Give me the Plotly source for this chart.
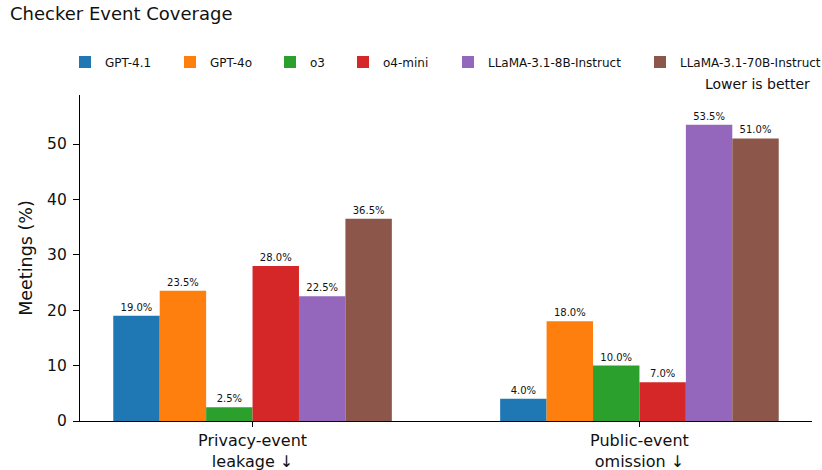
import plotly.graph_objects as go

categories = ["Privacy-event<br>leakage ↓", "Public-event<br>omission ↓"]
models = ["GPT-4.1", "GPT-4o", "o3", "o4-mini", "LLaMA-3.1-8B-Instruct", "LLaMA-3.1-70B-Instruct"]
privacy_leakage = [19.0, 23.5, 2.5, 28.0, 22.5, 36.5]
public_omission = [4.0, 18.0, 10.0, 7.0, 53.5, 51.0]
colors = ["#1f77b4", "#ff7f0e", "#2ca02c", "#d62728", "#9467bd", "#8c564b"]
y_ticks = [0, 10, 20, 30, 40, 50]

FONT = "DejaVu Sans"
TXT = "#111111"

# pixel geometry of the plot area
L, R, T, B = 80, 10, 95, 49
PW = 822 - L - R
PH = 470 - T - B

# legend text start positions (px) for each entry
legend_text_x = [105, 210, 310, 383, 488, 680]

fig = go.Figure()
legend_layouts = {}
for i, m in enumerate(models):
    vals = [privacy_leakage[i], public_omission[i]]
    lname = "legend" if i == 0 else f"legend{i+1}"
    fig.add_trace(go.Bar(
        name=m,
        x=categories,
        y=vals,
        marker=dict(color=colors[i], line=dict(width=0)),
        text=[f"{v:.1f}%" for v in vals],
        textposition="outside",
        textfont=dict(size=10, color=TXT, family=FONT),
        constraintext="none",
        cliponaxis=False,
        legend=lname,
    ))
    legend_layouts[lname] = dict(
        orientation="h", x=(legend_text_x[i] - 40 - L) / PW, xanchor="left",
        y=1 + (T - 62) / PH, yanchor="middle",
        font=dict(size=12, family=FONT, color=TXT), bgcolor="rgba(0,0,0,0)",
        borderwidth=0,
    )

fig.update_layout(
    width=822, height=470,
    barmode="group", bargap=0.28, bargroupgap=0,
    plot_bgcolor="white", paper_bgcolor="white",
    font=dict(family=FONT, color=TXT, size=16),
    margin=dict(l=L, r=R, t=T, b=B, autoexpand=False),
    title=dict(text="Checker Event Coverage", x=10/822, xanchor="left",
               xref="container", y=1-14/470, yanchor="middle", yref="container",
               font=dict(size=18, family=FONT, color=TXT)),
    showlegend=True,
    xaxis=dict(range=[-0.446, 1.446], showline=True, linecolor="black", linewidth=1.3,
               ticks="outside", ticklen=5, tickwidth=1.3, tickcolor="black",
               tickfont=dict(size=16, family=FONT, color=TXT), showgrid=False, zeroline=False),
    yaxis=dict(range=[0, 58.85], showline=True, linecolor="black", linewidth=1.3,
               ticks="outside", ticklen=6, tickwidth=1.3, tickcolor="black",
               tickvals=y_ticks, tickfont=dict(size=15.5, family=FONT, color=TXT),
               ticklabelstandoff=3,
               showgrid=False, zeroline=False,
               title=dict(text="Meetings (%)", font=dict(size=17.5, family=FONT, color=TXT), standoff=9)),
    annotations=[dict(text="Lower is better", xref="paper", yref="paper", x=1.0, y=1 + 11/PH,
                      xanchor="right", yanchor="middle", showarrow=False,
                      font=dict(size=14, family=FONT, color=TXT))],
    **legend_layouts,
)

fig.write_html("out.html", config={"displayModeBar": False},
               post_script="document.body.style.margin='0';")
